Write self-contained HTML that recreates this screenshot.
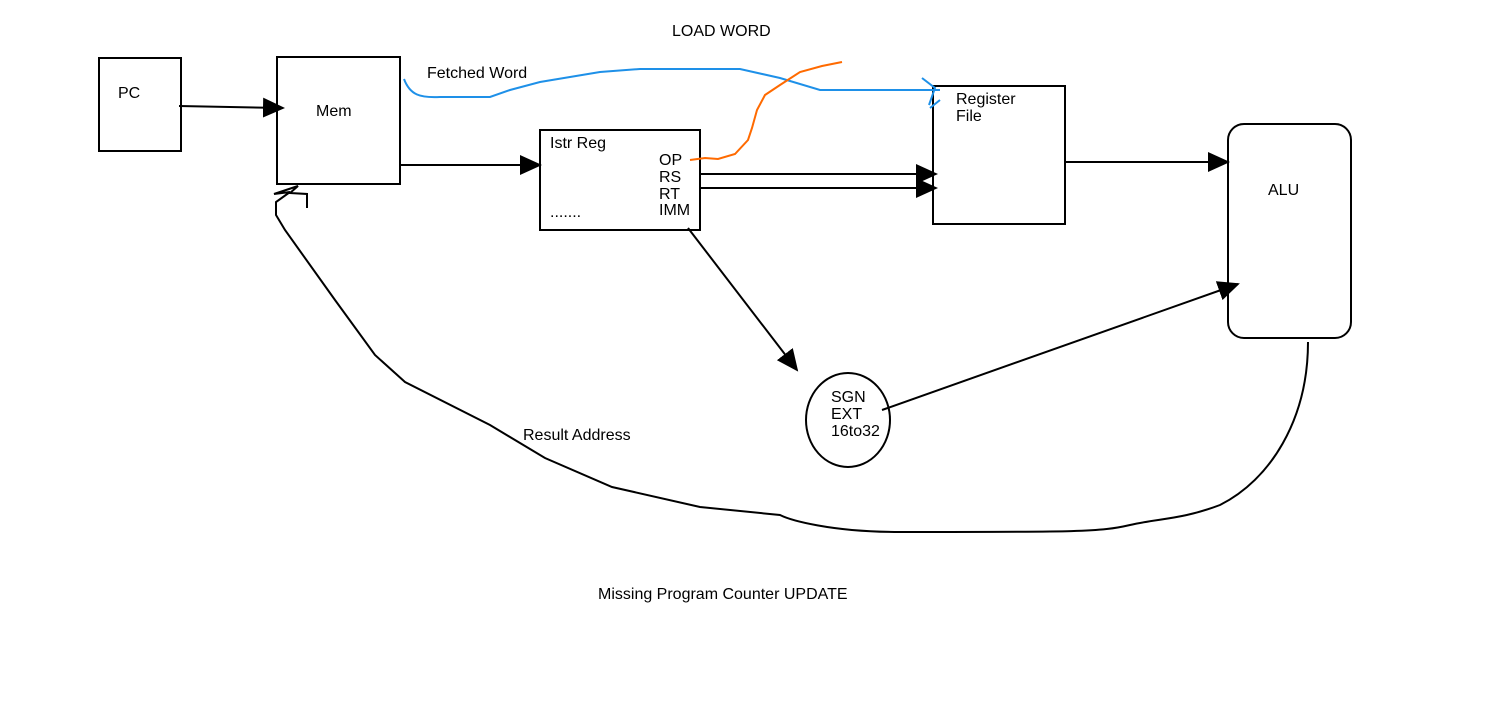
<!DOCTYPE html>
<html><head><meta charset="utf-8"><style>
html,body{margin:0;padding:0;background:#fff;width:1500px;height:720px;overflow:hidden}
text{font-family:"Liberation Sans",sans-serif;font-size:16px;fill:#000}
</style></head><body>
<svg width="1500" height="720" viewBox="0 0 1500 720" xmlns="http://www.w3.org/2000/svg">
<defs>
<marker id="b" markerWidth="22" markerHeight="20" refX="20" refY="10" orient="auto" markerUnits="userSpaceOnUse" viewBox="0 0 22 20">
<path d="M0,0 L22,10 L0,20 z" fill="#000"/></marker>
</defs>
<g fill="none" stroke="#000" stroke-width="2">
<rect x="99" y="58" width="82" height="93"/>
<rect x="277" y="57" width="123" height="127"/>
<rect x="540" y="130" width="160" height="100"/>
<rect x="933" y="86" width="132" height="138"/>
<rect x="1228" y="124" width="123" height="214" rx="16"/>
<ellipse cx="848" cy="420" rx="42" ry="47"/>
<line x1="179" y1="106" x2="283" y2="108" marker-end="url(#b)"/>
<line x1="400" y1="165" x2="540" y2="165" marker-end="url(#b)"/>
<line x1="700" y1="174" x2="936" y2="174" marker-end="url(#b)"/>
<line x1="700" y1="188" x2="936" y2="188" marker-end="url(#b)"/>
<line x1="1065" y1="162" x2="1228" y2="162" marker-end="url(#b)"/>
<line x1="688" y1="228" x2="797" y2="370" marker-end="url(#b)"/>
<line x1="882" y1="410" x2="1238" y2="284" marker-end="url(#b)"/>
<path d="M1308,342 C1308,420 1270,480 1220,505 C1180,520 1160,518 1130,525 C1100,532 1080,532 900,532 C830,532 790,520 780,515 L700,507 L612,487 L545,458 L490,425 L405,382 L375,355 L335,300 L285,230 L276,215 L276,202 L290,192 L274,194 L298,186 L290,193 L307,194 L307,208"/>
</g>
<path d="M404,79 C410,95 420,98 440,97 L490,97 L510,90 L540,82 L600,72 L640,69 L740,69 L780,78 L820,90 L940,90" fill="none" stroke="#1e90e8" stroke-width="2"/>
<path d="M922,78 L935,88 L929,105 M940,100 L930,108" fill="none" stroke="#1e90e8" stroke-width="2"/>
<path d="M690,160 L705,158 L718,159 L735,154 L748,140 L752,128 L757,110 L765,95 L780,85 L800,72 L822,66 L842,62" fill="none" stroke="#ff6a00" stroke-width="2"/>
<text x="672" y="36">LOAD WORD</text>
<text x="118" y="98">PC</text>
<text x="316" y="116">Mem</text>
<text x="427" y="78">Fetched Word</text>
<text x="550" y="148">Istr Reg</text>
<text x="659" y="165">OP</text>
<text x="659" y="182">RS</text>
<text x="659" y="199">RT</text>
<text x="659" y="215">IMM</text>
<text x="550" y="217">.......</text>
<text x="956" y="104">Register</text>
<text x="956" y="121">File</text>
<text x="1268" y="195">ALU</text>
<text x="831" y="402">SGN</text>
<text x="831" y="419">EXT</text>
<text x="831" y="436">16to32</text>
<text x="523" y="440">Result Address</text>
<text x="598" y="599">Missing Program Counter UPDATE</text>
</svg>
</body></html>
